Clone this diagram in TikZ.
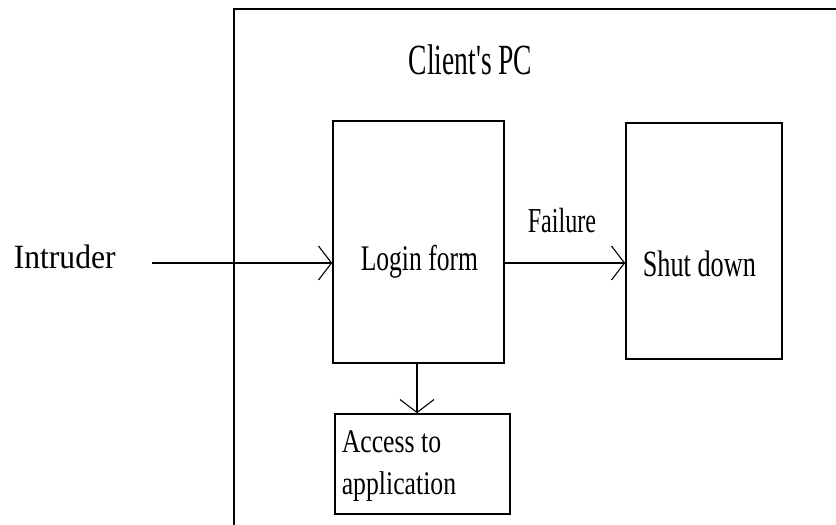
\documentclass[tikz,border=0pt]{standalone}
\usepackage{fontspec}
\usepackage{graphicx}
\setmainfont{Liberation Serif}
\usetikzlibrary{arrows.meta}
% squeezed text: #1 size, #2 horizontal scale, #3 text
\newcommand\sqtext[3]{\fontsize{#1}{#1}\selectfont\scalebox{#2}[1]{#3}}
\begin{document}
\begin{tikzpicture}[x=1pt,y=-1pt,
  line width=1.6pt,
  box/.style={draw, line width=1.6pt, inner sep=0pt},
  lbl/.style={inner sep=0pt, anchor=base west},
  arr/.style={-{Straight Barb[length=13pt,width=34pt,line width=1.1pt]}, line width=1.5pt}]
\useasboundingbox (0,0) rectangle (836,525);
% enclosing frame of the client machine (runs off the page)
\draw (836,9) -- (234,9) -- (234,525);
\node[lbl] (title) at (408,74) {\sqtext{43}{0.64}{Client\textquotesingle s PC}};

% boxes
\node[box, minimum width=171pt, minimum height=242pt] (login) at (418.5,242) {};
\node[box, minimum width=156pt, minimum height=236pt] (shut) at (704,241) {};
\node[box, minimum width=175pt, minimum height=100pt] (access) at (422.5,464) {};

% box texts
\node[lbl] (logintxt) at (360,270) {\sqtext{36}{0.71}{Login form}};
\node[lbl] (shuttxt) at (642,276) {\sqtext{37}{0.71}{Shut down}};
\node[lbl] (acc1) at (341,452) {\sqtext{33}{0.78}{Access to}};
\node[lbl] (acc2) at (341,494) {\sqtext{33}{0.78}{application}};

% intruder
\node[lbl] (intruder) at (13,268) {\sqtext{34}{0.93}{Intruder}};
\coordinate (src) at (152,263);
\draw[arr] (src) -- (src -| login.west);

% failure path
\coordinate (fl) at (login.east |- src);
\draw[arr] (fl) -- (fl -| shut.west);
\node[lbl] (failure) at (527,232) {\sqtext{35}{0.69}{Failure}};

% success path
\coordinate (dn) at (417,363);
\draw[arr] (dn) -- (dn |- access.north);
\end{tikzpicture}
\end{document}
